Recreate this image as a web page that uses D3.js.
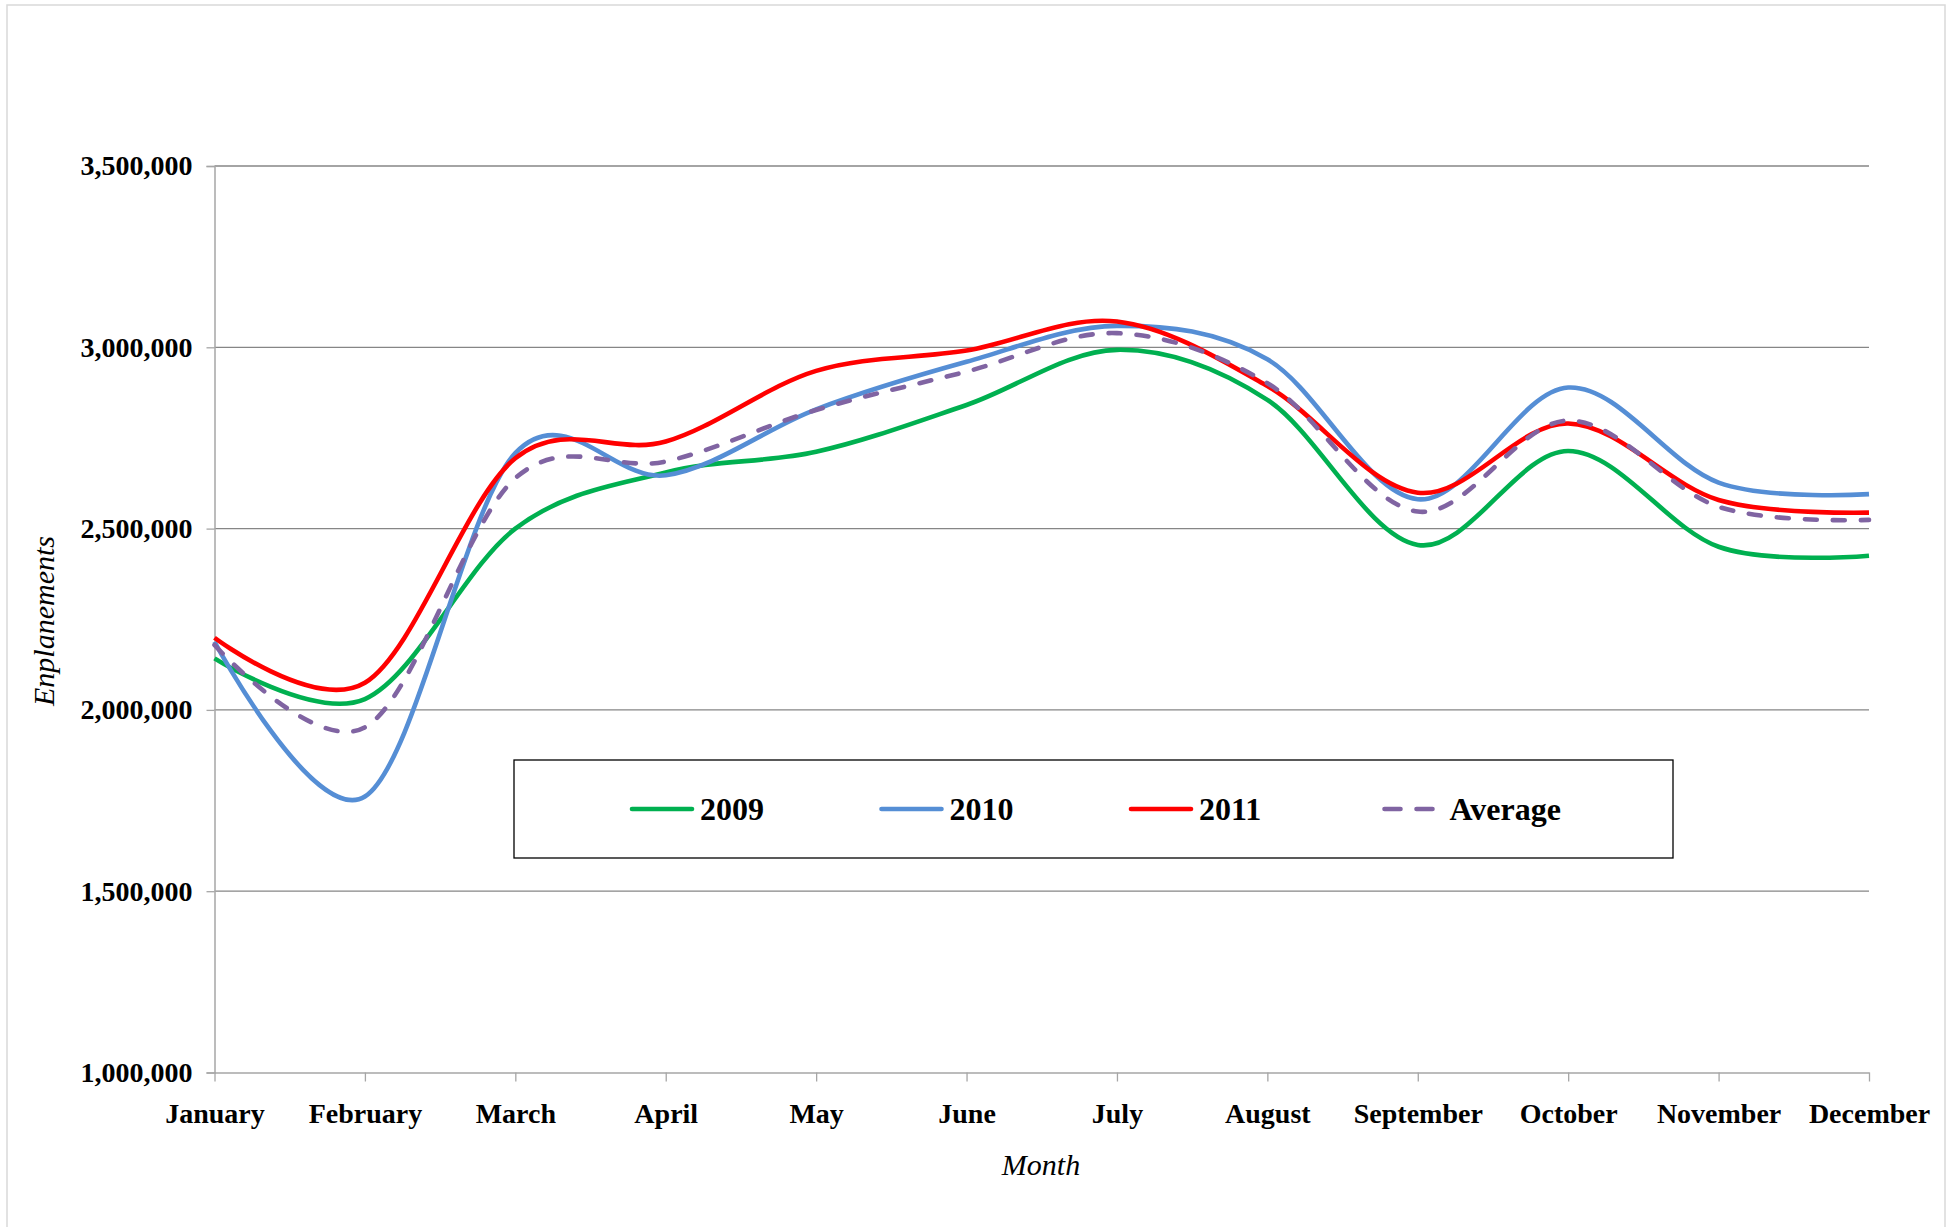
<!DOCTYPE html>
<html>
<head>
<meta charset="utf-8">
<script src="https://cdn.jsdelivr.net/npm/d3@7"></script>
<style>
  body { margin: 0; background: #fff; }
  text { font-family: "Liberation Serif", "Times New Roman", serif; }
</style>
</head>
<body>
<svg id="chart" width="1955" height="1227"></svg>
<script>
// monthly enplanements
const months = ['January', 'February', 'March', 'April', 'May', 'June', 'July',
  'August', 'September', 'October', 'November', 'December'];
const y2009 = [2142000, 2030000, 2500000, 2655000, 2712000, 2841000, 2993000, 2855000, 2455000, 2714000, 2450000, 2425000];
const y2010 = [2188000, 1761000, 2708000, 2647000, 2829000, 2960000, 3059000, 2967000, 2581000, 2889000, 2627000, 2595000];
const y2011 = [2199000, 2075000, 2694000, 2740000, 2935000, 2991000, 3071000, 2893000, 2599000, 2790000, 2579000, 2544000];
const yAvg  = [2179000, 1952000, 2639000, 2685000, 2827000, 2933000, 3039000, 2901000, 2547000, 2798000, 2560000, 2524000];
const yTicks = [1000000, 1500000, 2000000, 2500000, 3000000, 3500000];

const series = [
  { name: '2009', values: y2009, color: '#00b050', dash: null },
  { name: '2010', values: y2010, color: '#558ed5', dash: null },
  { name: '2011', values: y2011, color: '#ff0000', dash: null },
  { name: 'Average', values: yAvg, color: '#8064a2', dash: '12,16' }
];

const svg = d3.select('#chart');
const plotLeft = 214.5, plotRight = 1869, plotTop = 166, plotBottom = 1072.5;

// outer frame
svg.append('rect')
  .attr('x', 7).attr('y', 5).attr('width', 1938).attr('height', 1240)
  .attr('fill', 'none').attr('stroke', '#d9d9d9').attr('stroke-width', 1.5);

const x = d3.scalePoint().domain(months).range([plotLeft, plotRight]);
const y = d3.scaleLinear().domain([1000000, 3500000]).range([plotBottom, plotTop]);

// gridlines
svg.append('g').selectAll('line')
  .data(yTicks.slice(1))
  .join('line')
  .attr('x1', plotLeft).attr('x2', plotRight)
  .attr('y1', d => y(d)).attr('y2', d => y(d))
  .attr('stroke', '#868686').attr('stroke-width', 1.3);

// y axis
const yAxis = svg.append('g')
  .attr('transform', `translate(${plotLeft},0)`)
  .call(d3.axisLeft(y).tickValues(yTicks).tickFormat(d3.format(',')).tickSize(8).tickPadding(14));
yAxis.select('.domain').attr('stroke', '#a6a6a6').attr('stroke-width', 1.5);
yAxis.selectAll('.tick line').attr('stroke', '#a6a6a6').attr('stroke-width', 1.3);
yAxis.selectAll('.tick text')
  .attr('font-family', '"Liberation Serif", serif')
  .attr('font-size', 28).attr('font-weight', 'bold').attr('fill', '#000');

// x axis
const xAxis = svg.append('g')
  .attr('transform', `translate(0,${plotBottom})`)
  .call(d3.axisBottom(x).tickSize(9).tickPadding(22).tickSizeOuter(0));
xAxis.select('.domain').attr('stroke', '#a6a6a6').attr('stroke-width', 1.5);
xAxis.selectAll('.tick line').attr('stroke', '#a6a6a6').attr('stroke-width', 1.3);
xAxis.selectAll('.tick text')
  .attr('font-family', '"Liberation Serif", serif')
  .attr('font-size', 28).attr('font-weight', 'bold').attr('fill', '#000');

// axis titles
svg.append('text')
  .attr('transform', 'translate(54,621) rotate(-90)')
  .attr('text-anchor', 'middle')
  .attr('font-size', 30).attr('font-style', 'italic')
  .text('Enplanements');

svg.append('text')
  .attr('x', 1041).attr('y', 1175)
  .attr('text-anchor', 'middle')
  .attr('font-size', 30).attr('font-style', 'italic')
  .text('Month');

// lines
const line = d3.line()
  .x((d, i) => x(months[i]))
  .y(d => y(d))
  .curve(d3.curveCardinal);

svg.append('g').selectAll('path')
  .data(series)
  .join('path')
  .attr('d', d => line(d.values))
  .attr('fill', 'none')
  .attr('stroke', d => d.color)
  .attr('stroke-width', 4.6)
  .attr('stroke-linecap', d => d.dash ? 'round' : 'butt')
  .attr('stroke-dasharray', d => d.dash);

// legend
const legend = svg.append('g');
legend.append('rect')
  .attr('x', 514).attr('y', 760).attr('width', 1159).attr('height', 98)
  .attr('fill', '#fff').attr('stroke', '#000').attr('stroke-width', 1.3);

const item = legend.selectAll('g.item')
  .data(series)
  .join('g')
  .attr('class', 'item')
  .attr('transform', (d, i) => `translate(${632 + i * 249.5},809)`);

item.append('line')
  .attr('x1', d => d.dash ? 4 : 0).attr('x2', d => d.dash ? 56 : 60)
  .attr('stroke', d => d.color)
  .attr('stroke-width', 4.6)
  .attr('stroke-linecap', 'round')
  .attr('stroke-dasharray', d => d.dash ? '16,16' : null);

item.append('text')
  .attr('x', d => d.dash ? 69 : 68)
  .attr('dy', '0.35em')
  .attr('font-size', 32).attr('font-weight', 'bold')
  .text(d => d.name);
</script>
</body>
</html>
